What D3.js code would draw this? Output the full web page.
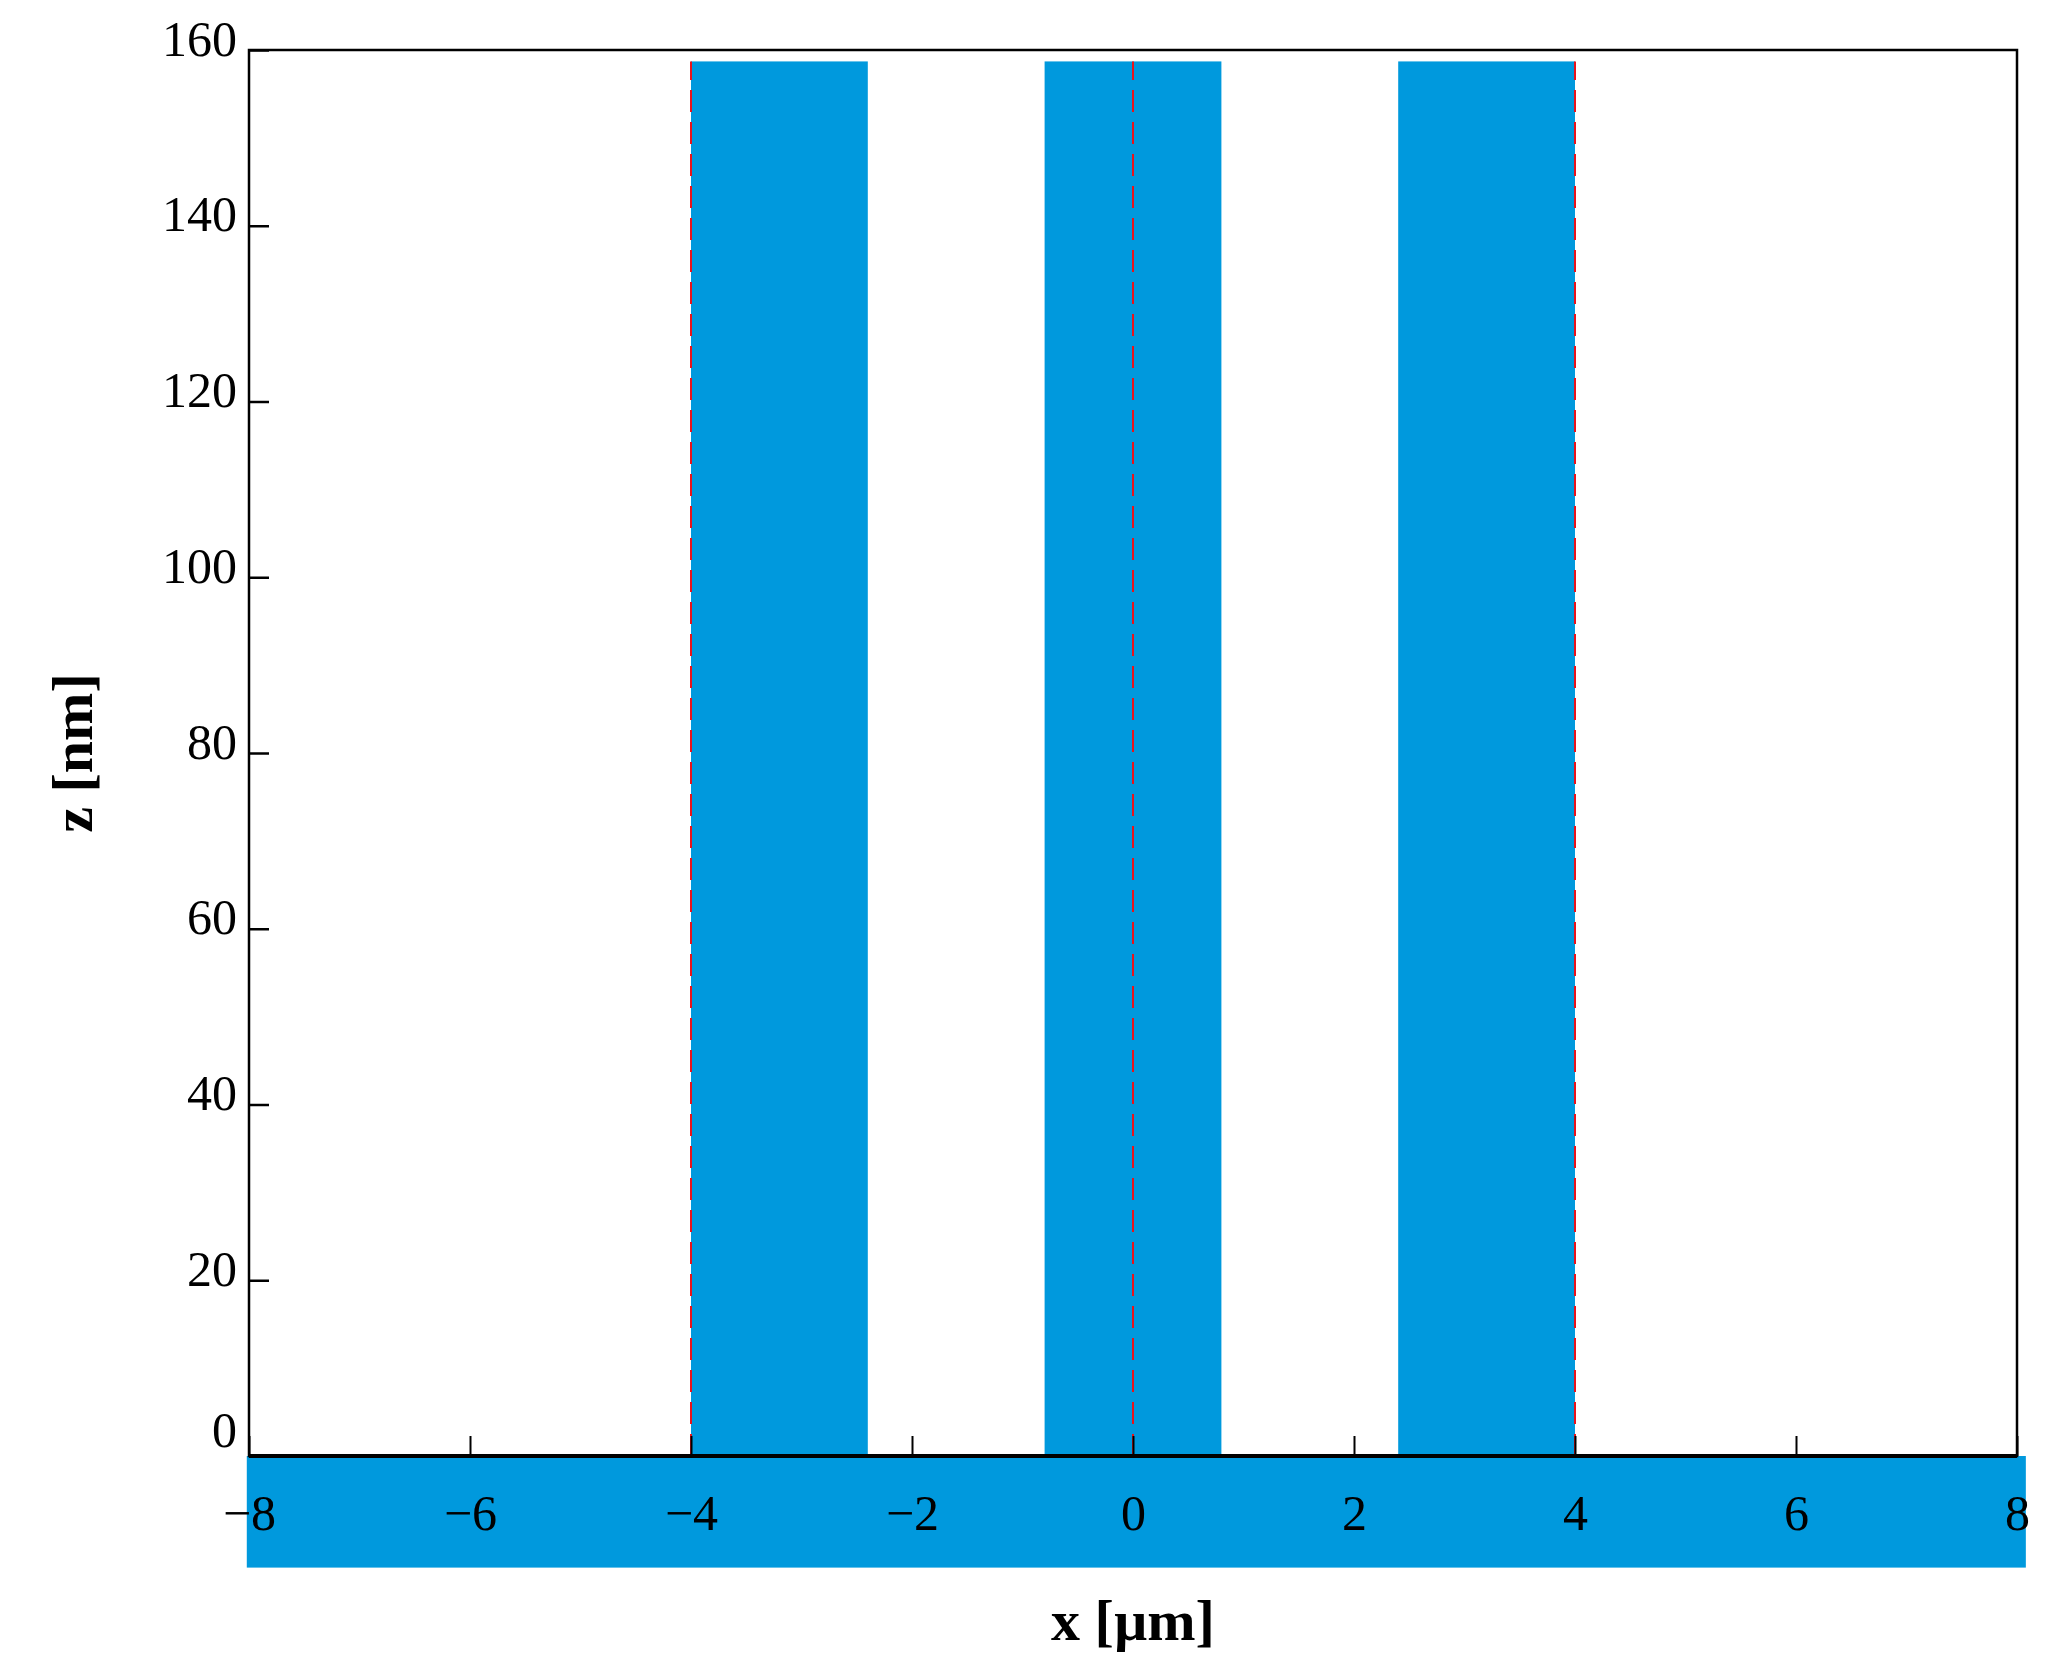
<!DOCTYPE html><html><head><script src="https://cdn.jsdelivr.net/npm/d3@7"></script>
<style>body{margin:0;background:#fff}</style></head><body><svg id="c" width="2057" height="1675"></svg><script>
const xTicks=[-8,-6,-4,-2,0,2,4,6,8];
const yTicks=[0,20,40,60,80,100,120,140,160];
const blockStart=[-4,-0.8,2.4];
const blockEnd=[-2.4,0.8,4];
const blockTop=158.7;
const dashX=[-4,0,4];
const substrate=[-8.02,8.08,-12.7];
const svg=d3.select("#c");
const x=d3.scaleLinear().domain([-8,8]).range([249,2017]);
const y=d3.scaleLinear().domain([0,160]).range([1456,50]);
const blue="#0099dd";
svg.append("rect").attr("x",x(substrate[0])).attr("width",x(substrate[1])-x(substrate[0])).attr("y",y(0)).attr("height",y(substrate[2])-y(0)).attr("fill",blue);
blockStart.forEach((s,i)=>svg.append("rect").attr("x",x(s)).attr("width",x(blockEnd[i])-x(s)).attr("y",y(blockTop)).attr("height",y(0)-y(blockTop)).attr("fill",blue));
dashX.forEach(d=>svg.append("line").attr("x1",x(d)).attr("x2",x(d)).attr("y1",y(0)).attr("y2",y(blockTop)).attr("stroke","#e8141c").attr("stroke-width",2).attr("stroke-dasharray","22,10"));
const F="'Liberation Serif','DejaVu Serif',serif";
svg.append("rect").attr("x",x(-8)).attr("y",y(160)).attr("width",x(8)-x(-8)).attr("height",y(0)-y(160)).attr("fill","none").attr("stroke","#000").attr("stroke-width",2.5);
svg.append("line").attr("x1",x(-8)).attr("x2",x(8)).attr("y1",y(0)).attr("y2",y(0)).attr("stroke","#000").attr("stroke-width",4);
const xa=svg.append("g").attr("transform",`translate(0,${y(0)})`).call(d3.axisBottom(x).tickValues(xTicks).tickSize(-20).tickPadding(38).tickFormat(d3.format("d")));
xa.select(".domain").remove();
xa.selectAll("line").attr("stroke-width",2);
xa.selectAll("text").attr("font-family",F).attr("font-size",50).attr("fill","#000");
const ya=svg.append("g").attr("transform",`translate(${x(-8)},0)`).call(d3.axisLeft(y).tickValues(yTicks).tickSize(-20).tickPadding(12));
ya.select(".domain").remove();
ya.selectAll("line").attr("stroke-width",2.5);
ya.selectAll("text").attr("font-family",F).attr("font-size",50).attr("fill","#000").attr("dy","0.1em");
ya.selectAll(".tick").filter(d=>d===0).select("text").attr("dy","-0.2em");
svg.append("text").attr("x",(x(-8)+x(8))/2).attr("y",1640).attr("text-anchor","middle").attr("font-family",F).attr("font-weight","bold").attr("font-size",58).text("x [µm]");
svg.append("text").attr("transform",`translate(92,${y(80)}) rotate(-90)`).attr("text-anchor","middle").attr("font-family",F).attr("font-weight","bold").attr("font-size",58).text("z [nm]");
</script></body></html>
